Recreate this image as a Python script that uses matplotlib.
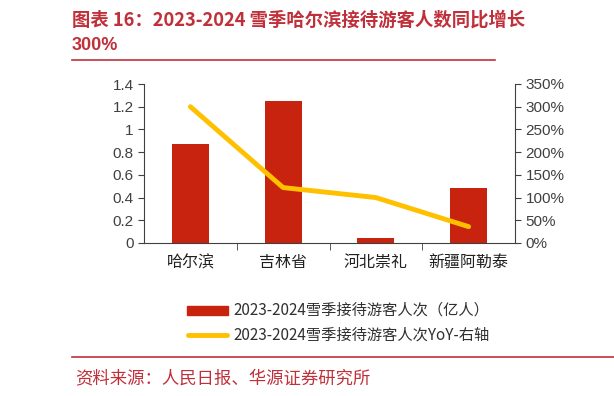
import matplotlib.pyplot as plt
import numpy as np
from matplotlib.patches import Rectangle
from matplotlib.lines import Line2D
from matplotlib.ticker import FixedLocator

plt.rcParams['font.family'] = ['Noto Sans CJK SC', 'DejaVu Sans']

# data
cities = ["哈尔滨", "吉林省", "河北崇礼", "新疆阿勒泰"]
visitors = [0.87, 1.25, 0.04, 0.48]       # 亿人
yoy = [300, 122, 100, 36]                 # %
left_ticks = [0, 0.2, 0.4, 0.6, 0.8, 1, 1.2, 1.4]
left_labels = ["0", "0.2", "0.4", "0.6", "0.8", "1", "1.2", "1.4"]
right_ticks = [0, 50, 100, 150, 200, 250, 300, 350]

red = "#C8230F"
gold = "#FFC000"
title_red = "#C0303A"
txt = "#404040"

fig = plt.figure(figsize=(6.14, 3.96), dpi=100)

# title and source
fig.text(72 / 614, 1 - 20 / 396, "图表 16：2023-2024 雪季哈尔滨接待游客人数同比增长",
         color=title_red, fontsize=13.2, fontweight="bold", va="center")
fig.text(72 / 614, 1 - 46 / 396, "300%", color=title_red, fontsize=13,
         fontweight="bold", va="center", family=["Liberation Sans", "Noto Sans CJK SC"])
fig.add_artist(Line2D([72 / 614, 495 / 614], [1 - 60 / 396] * 2, color=title_red, lw=1.2))
fig.add_artist(Line2D([72 / 614, 1.0], [1 - 357 / 396] * 2, color=title_red, lw=1.2))
fig.text(75 / 614, 1 - 378 / 396, "资料来源：人民日报、华源证券研究所",
         color=title_red, fontsize=12.5, va="center")

ax = fig.add_axes([144 / 614, 1 - 243 / 396, (515 - 144) / 614, (243 - 84) / 396])
x = np.arange(len(cities))
ax.bar(x, visitors, width=0.4, color=red)
ax.set_xlim(-0.5, len(cities) - 0.5)
ax.set_ylim(0, 1.4)
ax.set_yticks(left_ticks)
ax.set_yticklabels(left_labels, family=["Liberation Sans"])
ax.set_xticks(x)
ax.set_xticklabels(cities, fontsize=11.5, color="#202020")
ax.xaxis.set_minor_locator(FixedLocator(np.arange(0.5, len(cities) - 0.5, 1)))
ax.tick_params(axis="x", which="major", length=0, pad=8)
ax.tick_params(axis="x", which="minor", length=5, color=txt, direction="out")
ax.tick_params(axis="y", length=4, color=txt, labelcolor=txt, labelsize=11)
for s in ["top", "right"]:
    ax.spines[s].set_visible(False)
ax.spines["left"].set_color(txt)
ax.spines["bottom"].set_color(txt)

ax2 = ax.twinx()
ax2.plot(x, yoy, color=gold, lw=3.5, solid_capstyle="round")
ax2.set_ylim(0, 350)
ax2.set_yticks(right_ticks)
ax2.set_yticklabels([f"{v}%" for v in right_ticks], family=["Liberation Sans"])
ax2.tick_params(axis="y", length=4, color=txt, labelcolor=txt, labelsize=11)
for s in ["top", "left", "bottom"]:
    ax2.spines[s].set_visible(False)
ax2.spines["right"].set_color(txt)

# legend drawn by hand below the plot
fig.add_artist(Rectangle((187 / 614, 1 - 315 / 396), 41 / 614, 9 / 396,
                         color=red, transform=fig.transFigure))
fig.text(233 / 614, 1 - 310 / 396, "2023-2024雪季接待游客人次（亿人）",
         color="#303030", fontsize=11, va="center")
fig.add_artist(Line2D([188 / 614, 227 / 614], [1 - 335 / 396] * 2,
                      color=gold, lw=3.5, solid_capstyle="round"))
fig.text(233 / 614, 1 - 335 / 396, "2023-2024雪季接待游客人次YoY-右轴",
         color="#303030", fontsize=11, va="center")

fig.savefig("out.png", dpi=100)
